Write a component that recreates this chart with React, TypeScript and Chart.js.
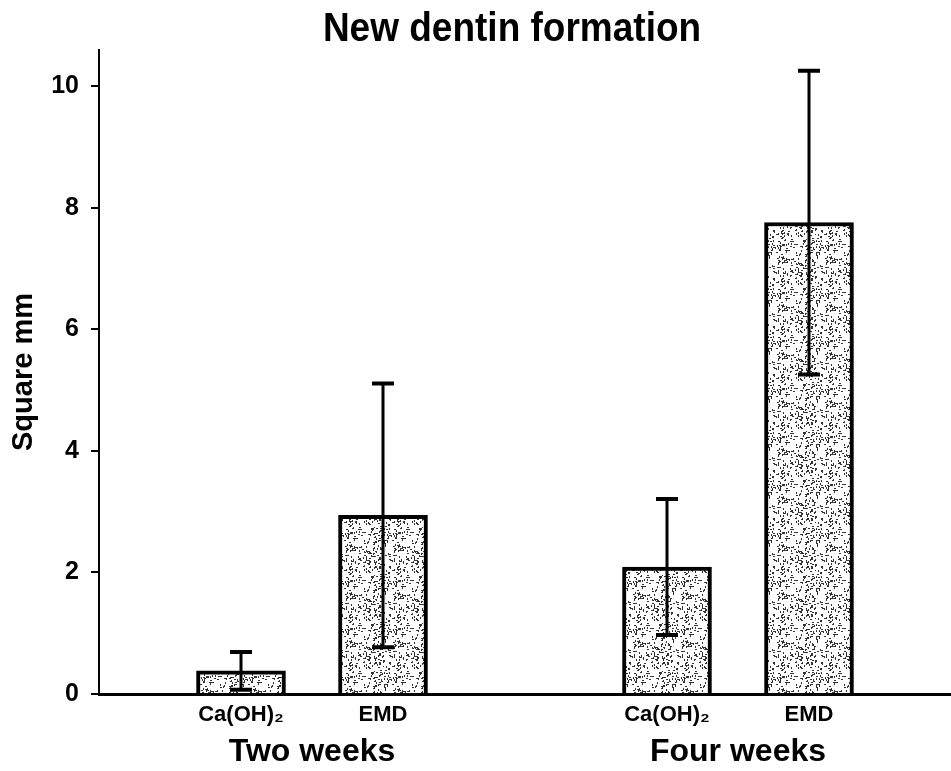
import React, { useEffect, useRef } from "react";
import { Chart, registerables } from "chart.js";

Chart.register(...registerables);

// ---- data ----
const treatments = ["Ca(OH)₂", "EMD"];
const periods = ["Two weeks", "Four weeks"];
const twoWeeksMean = [0.38, 2.94];
const twoWeeksSD = [0.31, 2.17];
const fourWeeksMean = [2.09, 7.76];
const fourWeeksSD = [1.12, 2.5];
const yTickValues = [0, 2, 4, 6, 8, 10];
const yMax = 10.6;
const chartTitle = "New dentin formation";
const yTitle = "Square mm";

const FONT = "'Liberation Sans', Arial, Helvetica, sans-serif";

function makeStipple(): CanvasPattern | string {
  const c = document.createElement("canvas");
  c.width = 48;
  c.height = 48;
  const g = c.getContext("2d");
  if (!g) return "#d9d9d9";
  g.fillStyle = "#ffffff";
  g.fillRect(0, 0, 48, 48);
  g.fillStyle = "#333333";
  let s = 12345;
  const next = () => {
    s = (s * 1103515245 + 12345) & 0x7fffffff;
    return s / 0x7fffffff;
  };
  for (let i = 0; i < 260; i++) {
    const x = Math.floor(next() * 48);
    const y = Math.floor(next() * 48);
    const horiz = next() > 0.5;
    g.fillRect(x, y, horiz ? 2 : 1, horiz ? 1 : 2);
  }
  const p = g.createPattern(c, "repeat");
  return p || "#d9d9d9";
}

export default function App() {
  const ref = useRef<HTMLCanvasElement | null>(null);

  useEffect(() => {
    document.body.style.margin = "0";
    const canvas = ref.current;
    if (!canvas) return;

    const labels = ["", ...treatments, "", ...treatments, ""];
    const means: (number | null)[] = [null, ...twoWeeksMean, null, ...fourWeeksMean, null];
    const sds: (number | null)[] = [null, ...twoWeeksSD, null, ...fourWeeksSD, null];

    const errorBars = {
      id: "errorBars",
      afterDatasetsDraw(chart: any) {
        const ctx = chart.ctx;
        const yScale = chart.scales.y;
        const meta = chart.getDatasetMeta(0);
        ctx.save();
        ctx.strokeStyle = "#000";
        meta.data.forEach((el: any, i: number) => {
          const m = means[i];
          const sd = sds[i];
          if (m == null || sd == null) return;
          const x = el.x;
          const yt = yScale.getPixelForValue(m + sd);
          const yb = yScale.getPixelForValue(Math.max(m - sd, 0));
          ctx.lineWidth = 3;
          ctx.beginPath();
          ctx.moveTo(x, yt);
          ctx.lineTo(x, yb);
          ctx.stroke();
          ctx.lineWidth = 4;
          ctx.beginPath();
          ctx.moveTo(x - 11, yt);
          ctx.lineTo(x + 11, yt);
          ctx.moveTo(x - 11, yb);
          ctx.lineTo(x + 11, yb);
          ctx.stroke();
        });
        ctx.restore();
      },
    };

    const titlePlugin = {
      id: "mainTitle",
      afterDraw(chart: any) {
        const ctx = chart.ctx;
        ctx.save();
        ctx.fillStyle = "#000";
        ctx.font = `bold 37px ${FONT}`;
        ctx.textAlign = "center";
        ctx.textBaseline = "middle";
        ctx.translate(512, 30);
        ctx.scale(1, 1.12);
        ctx.fillText(chartTitle, 0, 0);
        ctx.restore();
      },
    };

    const chart = new Chart(canvas, {
      type: "bar",
      data: {
        labels,
        datasets: [
          {
            data: means,
            backgroundColor: makeStipple() as any,
            borderColor: "#000",
            borderWidth: 4,
            barThickness: 89,
            borderSkipped: "bottom",
          },
        ],
      },
      options: {
        responsive: false,
        animation: false,
        layout: { padding: { top: 50, left: 0, right: 0, bottom: 0 } },
        plugins: {
          legend: { display: false },
          tooltip: { enabled: false },
          title: { display: false },
        },
        scales: {
          x: {
            type: "category",
            position: "bottom",
            weight: 0,
            offset: false,
            grid: { display: false, drawTicks: true, tickLength: 8 },
            border: { display: true, color: "#000", width: 3 },
            ticks: {
              color: "#000",
              font: { family: FONT, size: 22, weight: "bold" },
              padding: 0,
              autoSkip: false,
              maxRotation: 0,
            },
            afterFit: (s: any) => {
              s.height = 35;
            },
          },
          x2: {
            type: "category",
            labels: periods,
            position: "bottom",
            weight: 1,
            offset: true,
            grid: { display: false, drawTicks: true, tickLength: 4 },
            border: { display: false },
            ticks: {
              color: "#000",
              font: { family: FONT, size: 32, weight: "bold" },
              padding: 0,
              autoSkip: false,
              maxRotation: 0,
            },
            afterFit: (s: any) => {
              s.height = 42;
            },
          },
          y: {
            type: "linear",
            min: 0,
            max: yMax,
            grid: {
              drawOnChartArea: false,
              drawTicks: true,
              tickLength: 8,
              color: "#000",
              lineWidth: 2,
            },
            border: { display: true, color: "#000", width: 2 },
            ticks: {
              color: "#000",
              font: { family: FONT, size: 25, weight: "bold" },
              padding: 12,
              includeBounds: false,
            },
            afterBuildTicks: (s: any) => {
              s.ticks = yTickValues.map((v) => ({ value: v }));
            },
            title: {
              display: true,
              text: yTitle,
              color: "#000",
              font: { family: FONT, size: 29, weight: "bold" },
              padding: { top: 7, bottom: 0 },
            },
            afterFit: (s: any) => {
              s.width = 99;
            },
          },
        },
      },
      plugins: [errorBars, titlePlugin],
    });

    return () => chart.destroy();
  }, []);

  return (
    <div style={{ width: 951, height: 771, background: "#fff" }}>
      <canvas ref={ref} width={951} height={771} style={{ display: "block" }} />
    </div>
  );
}
